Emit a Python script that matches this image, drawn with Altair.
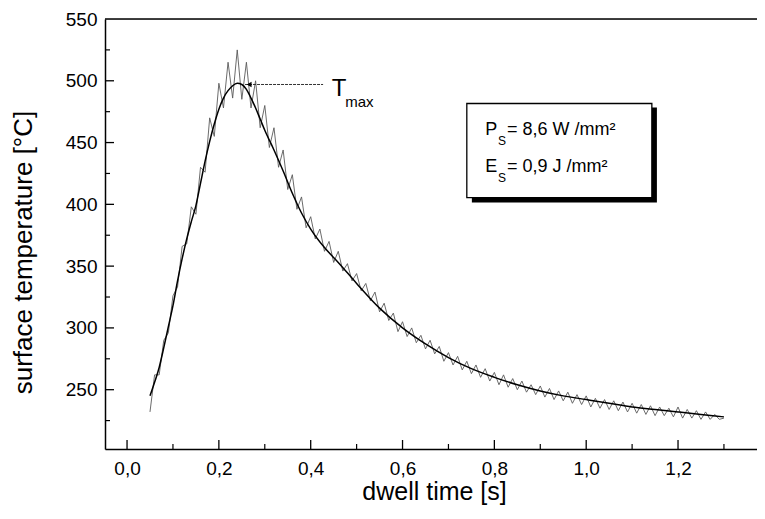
import altair as alt
import pandas as pd

# ---- data ----
fit_x = [0.05, 0.06, 0.07, 0.08, 0.09, 0.10, 0.11, 0.12, 0.13, 0.14, 0.15, 0.16, 0.17, 0.18,
         0.19, 0.20, 0.21, 0.22, 0.23, 0.24, 0.25, 0.26, 0.27, 0.28, 0.29, 0.30, 0.32, 0.34,
         0.36, 0.38, 0.40, 0.43, 0.46, 0.50, 0.55, 0.60, 0.65, 0.70, 0.75, 0.80, 0.85, 0.90,
         0.95, 1.00, 1.05, 1.10, 1.15, 1.20, 1.25, 1.30]
fit_t = [245, 256, 268, 284, 301, 318, 338, 356, 372, 386, 399, 417, 435, 451,
         465, 477, 486, 492, 496, 498, 497, 493, 486, 478, 469, 460, 444, 427,
         409, 393, 380, 365, 353, 336, 316, 300, 287, 276, 267, 260, 254, 249,
         245, 242, 239, 236, 234, 232, 230, 228]

meas_x = [round(0.05 + 0.01 * i, 2) for i in range(126)]
meas_t = [232, 262, 262, 290, 296, 326, 333, 366, 368, 398,
          392, 430, 426, 470, 455, 498, 478, 515, 486, 525,
          485, 515, 478, 500, 462, 480, 446, 462, 430, 444,
          412, 424, 396, 406, 381, 390, 372, 380, 362, 370,
          353, 362, 346, 352, 338, 344, 330, 336, 322, 329,
          313, 320, 306, 312, 297, 305, 293, 300, 288, 294,
          283, 290, 279, 285, 273, 280, 270, 277, 266, 273,
          263, 270, 260, 267, 257, 264, 254, 262, 252, 259,
          250, 257, 248, 254, 246, 253, 244, 251, 242, 249,
          241, 248, 239, 246, 238, 245, 236, 243, 235, 242,
          234, 241, 233, 240, 232, 239, 231, 238, 230, 237,
          229, 236, 229, 235, 228, 236, 227, 234, 227, 233,
          226, 232, 226, 230, 226, 227]

y_major = [250, 300, 350, 400, 450, 500, 550]
y_minor = [225, 275, 325, 375, 425, 475, 525]
x_major = [0.0, 0.2, 0.4, 0.6, 0.8, 1.0, 1.2]
x_minor = [0.1, 0.3, 0.5, 0.7, 0.9, 1.1, 1.3]

FONT = "Liberation Sans"
W, H = 652, 430
XD = [-0.048, 1.372]
YD = [202, 550]

fit = pd.DataFrame({"x": fit_x, "t": fit_t})
meas = pd.DataFrame({"x": meas_x, "t": meas_t})

xs = alt.Scale(domain=XD, nice=False, zero=False)
ys = alt.Scale(domain=YD, nice=False, zero=False)

xaxis = alt.Axis(values=x_major, labelExpr="replace(format(datum.value, '.1f'), '.', ',')",
                 ticks=False, grid=False, domainColor="black", domainWidth=1.5,
                 labelFont=FONT, labelFontSize=19, labelColor="black", labelPadding=10,
                 title="dwell time [s]", titleFont=FONT, titleFontSize=25,
                 titleFontWeight="normal", titleColor="black", titleX=329, titleY=50,
                 titleBaseline="alphabetic", titleAlign="center")
yaxis = alt.Axis(values=y_major, ticks=False, grid=False, domainColor="black", domainWidth=1.5,
                 labelFont=FONT, labelFontSize=19, labelColor="black", labelPadding=8,
                 title="surface temperature [°C]", titleFont=FONT, titleFontSize=26,
                 titleFontWeight="normal", titleColor="black", titleX=-82, titleY=233,
                 titleBaseline="middle", titleAlign="center", titleAngle=270)

meas_line = alt.Chart(meas).mark_line(color="#5a5a5a", strokeWidth=0.9).encode(
    x=alt.X("x:Q", scale=xs, axis=xaxis),
    y=alt.Y("t:Q", scale=ys, axis=yaxis),
)
fit_line = alt.Chart(fit).mark_line(color="black", strokeWidth=1.5, interpolate="monotone").encode(
    x=alt.X("x:Q", scale=xs), y=alt.Y("t:Q", scale=ys))

top_border = alt.Chart(pd.DataFrame({"t": [550]})).mark_rule(color="black", strokeWidth=1.5).encode(
    y=alt.Y("t:Q", scale=ys))

ytick_major = alt.Chart(pd.DataFrame({"t": y_major[:-1]})).mark_rule(color="black", strokeWidth=1.3).encode(
    y=alt.Y("t:Q", scale=ys), x=alt.value(0), x2=alt.value(9))
ytick_minor = alt.Chart(pd.DataFrame({"t": y_minor})).mark_rule(color="black", strokeWidth=1.2).encode(
    y=alt.Y("t:Q", scale=ys), x=alt.value(0), x2=alt.value(5))
xtick_major = alt.Chart(pd.DataFrame({"x": x_major})).mark_rule(color="black", strokeWidth=1.3).encode(
    x=alt.X("x:Q", scale=xs), y=alt.value(H), y2=alt.value(H - 9))
xtick_minor = alt.Chart(pd.DataFrame({"x": x_minor})).mark_rule(color="black", strokeWidth=1.2).encode(
    x=alt.X("x:Q", scale=xs), y=alt.value(H), y2=alt.value(H - 5))

# Tmax annotation
tmax_line = alt.Chart(pd.DataFrame({"x": [0.257], "x2": [0.427], "t": [497]})).mark_rule(
    color="#333333", strokeWidth=1.0, strokeDash=[3, 1]).encode(
    x=alt.X("x:Q", scale=xs), x2="x2:Q", y=alt.Y("t:Q", scale=ys))
tmax_arrow = alt.Chart(pd.DataFrame({"x": [0.266], "t": [497]})).mark_point(
    shape="triangle-left", filled=True, color="black", size=30, opacity=1).encode(
    x=alt.X("x:Q", scale=xs), y=alt.Y("t:Q", scale=ys))
tmax_T = alt.Chart(pd.DataFrame({"x": [0.446], "t": [487.3], "s": ["T"]})).mark_text(
    font=FONT, fontSize=24, align="left", baseline="alphabetic", color="black").encode(
    x=alt.X("x:Q", scale=xs), y=alt.Y("t:Q", scale=ys), text="s:N")
tmax_sub = alt.Chart(pd.DataFrame({"x": [0.475], "t": [478.4], "s": ["max"]})).mark_text(
    font=FONT, fontSize=15, align="left", baseline="alphabetic", color="black").encode(
    x=alt.X("x:Q", scale=xs), y=alt.Y("t:Q", scale=ys), text="s:N")

# parameter box
shadow = alt.Chart(pd.DataFrame({"x": [0.751], "x2": [1.154], "t": [478.4], "t2": [401.5]})).mark_rect(
    color="black").encode(x=alt.X("x:Q", scale=xs), x2="x2:Q", y=alt.Y("t:Q", scale=ys), y2="t2:Q")
box = alt.Chart(pd.DataFrame({"x": [0.740], "x2": [1.143], "t": [481.6], "t2": [405.5]})).mark_rect(
    fill="white", stroke="black", strokeWidth=1.3).encode(
    x=alt.X("x:Q", scale=xs), x2="x2:Q", y=alt.Y("t:Q", scale=ys), y2="t2:Q")

main_txt = pd.DataFrame({
    "x": [0.780, 0.8275, 0.780, 0.8275],
    "t": [456.5, 456.5, 425.8, 425.8],
    "s": ["P", "= 8,6 W /mm²", "E", "= 0,9 J /mm²"],
})
sub_txt = pd.DataFrame({"x": [0.808, 0.808], "t": [448.4, 417.7], "s": ["S", "S"]})
box_main = alt.Chart(main_txt).mark_text(font=FONT, fontSize=18, align="left",
                                         baseline="alphabetic", color="black").encode(
    x=alt.X("x:Q", scale=xs), y=alt.Y("t:Q", scale=ys), text="s:N")
box_sub = alt.Chart(sub_txt).mark_text(font=FONT, fontSize=12, align="left",
                                       baseline="alphabetic", color="black").encode(
    x=alt.X("x:Q", scale=xs), y=alt.Y("t:Q", scale=ys), text="s:N")

chart = alt.layer(
    meas_line, fit_line, top_border, ytick_major, ytick_minor, xtick_major, xtick_minor,
    tmax_line, tmax_arrow, tmax_T, tmax_sub, shadow, box, box_main, box_sub,
).properties(
    width=W, height=H,
    autosize=alt.AutoSizeParams(type="none"),
    padding={"left": 97, "top": 11, "right": 0, "bottom": 58},
).configure_view(stroke=None).configure(background="white")

chart.save("out.html", embed_options={"renderer": "svg", "actions": False})
